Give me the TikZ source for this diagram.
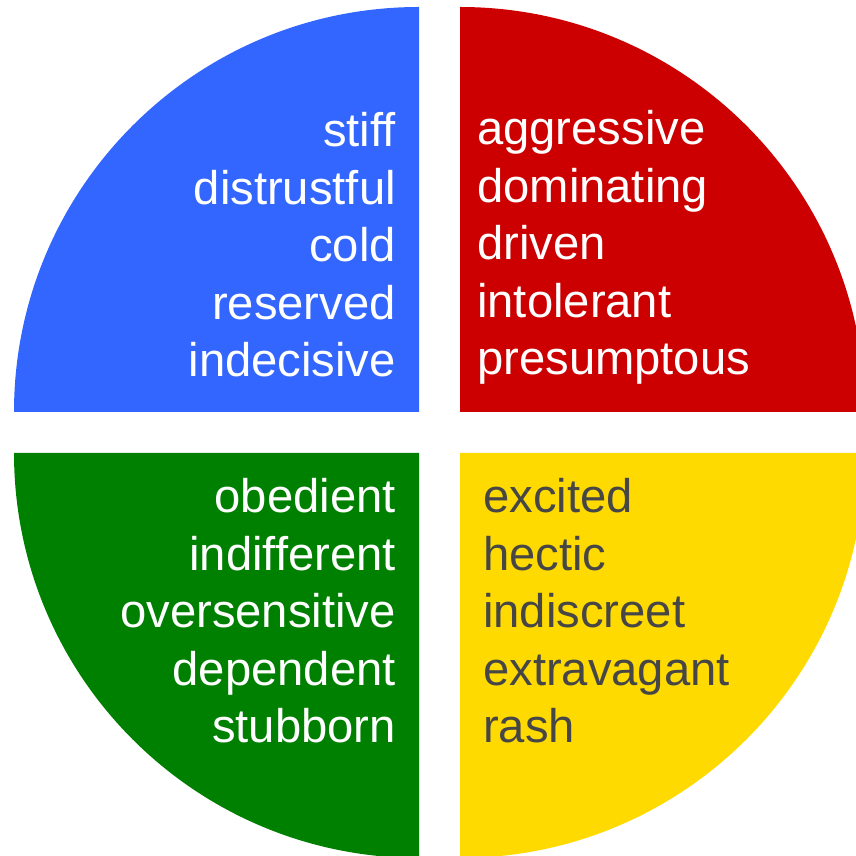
\documentclass[tikz,border=0pt]{standalone}
\usepackage{fontspec}
\setmainfont{Liberation Sans}
\usepackage{tikz}
\usetikzlibrary{positioning}
\definecolor{stiffBlue}{HTML}{3366FF}
\definecolor{driveRed}{HTML}{CC0000}
\definecolor{calmGreen}{HTML}{008000}
\definecolor{brightYellow}{HTML}{FFDA00}
\definecolor{wordGray}{HTML}{464646}
\tikzstyle{wheel} = [x = 1pt, y = 1pt]
\tikzstyle{wordStyle} = [inner sep = 0, font = \fontsize{47.2}{57.5}\selectfont]
\newcommand{\rad}{405}
\newcommand{\quarter}[4]{\fill [#1] (#2, #3) -- +(#4:\rad) arc [start angle = #4, end angle = #4 - 90, radius = \rad] -- cycle;}
\newcommand{\wordColumn}[5]{
  \foreach \word [count = \i] in {#5} {
    \node [wordStyle, #4] (#1\i) at (#2, {#3 - 57.5 * (\i - 1)}) {\word};
  }
}

\begin{document}
\begin{tikzpicture}[wheel]
        \useasboundingbox (0,0) rectangle (856,856);
        \clip (0,0) rectangle (856,856);
        \quarter{stiffBlue}{419}{444}{180}\quarter{driveRed}{460}{444}{90}\quarter{calmGreen}{419}{403}{270}\quarter{brightYellow}{460}{403}{0}
        \wordColumn{blue}{396}{709}{anchor = base east, white}{stiff, distrustful, cold, reserved, indecisive}
        \wordColumn{red}{477}{711}{anchor = base west, white}{aggressive, dominating, driven, intolerant, presumptous}
        \wordColumn{green}{396}{343}{anchor = base east, white}{obedient, indifferent, oversensitive, dependent, stubborn}
        \wordColumn{yellow}{483}{343}{anchor = base west, wordGray}{excited, hectic, indiscreet, extravagant, rash}
\end{tikzpicture}
\end{document}
